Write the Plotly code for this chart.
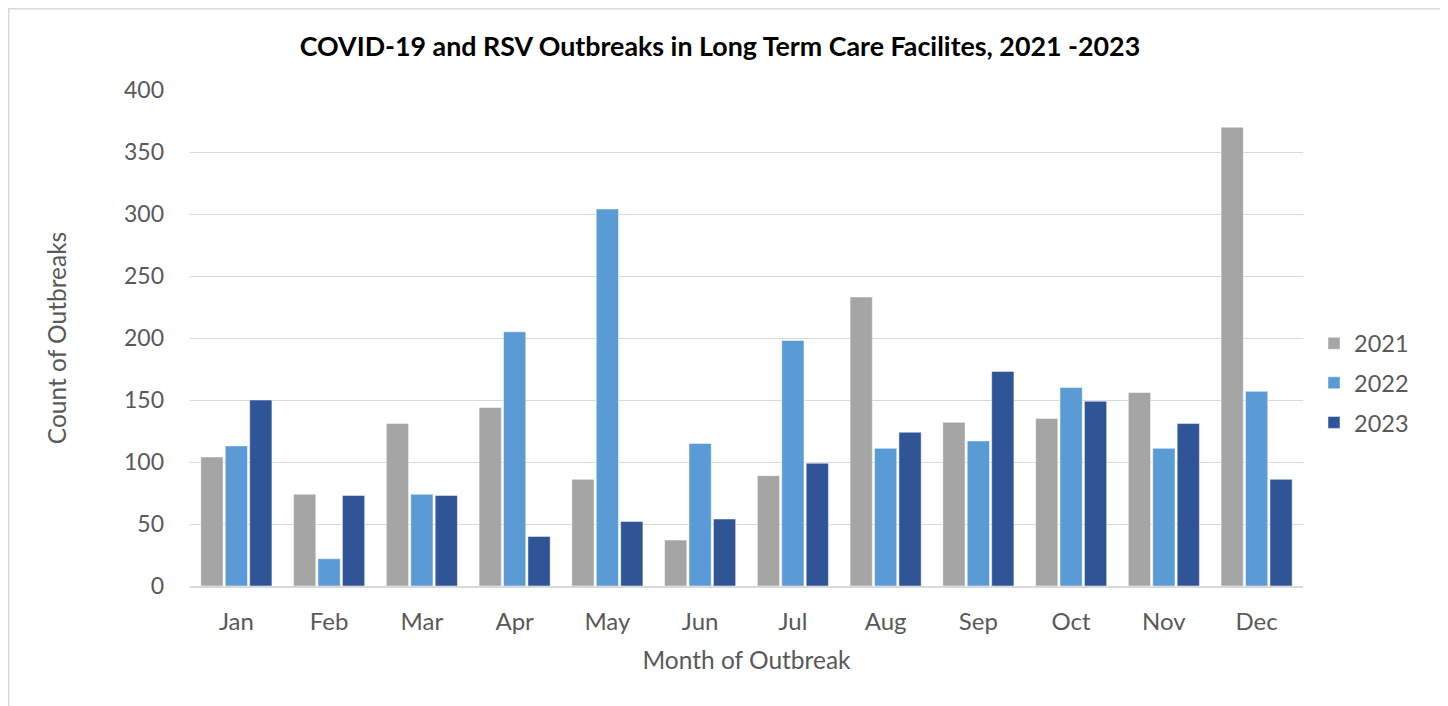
import plotly.graph_objects as go

months = ["Jan", "Feb", "Mar", "Apr", "May", "Jun", "Jul", "Aug", "Sep", "Oct", "Nov", "Dec"]
y2021 = [104, 74, 131, 144, 86, 37, 89, 233, 132, 135, 156, 370]
y2022 = [113, 22, 74, 205, 304, 115, 198, 111, 117, 160, 111, 157]
y2023 = [150, 73, 73, 40, 52, 54, 99, 124, 173, 149, 131, 86]
y_ticks = [0, 50, 100, 150, 200, 250, 300, 350, 400]

colors = {"2021": "#A5A5A5", "2022": "#5B9BD5", "2023": "#2F5597"}
FONT = "Lato, 'Open Sans', sans-serif"
GRAY = "#595959"

# page body has an 8px margin; figure is sized to compensate
W, H = 1440, 698
ML, MR, MT, MB = 182, 145, 82, 120
PW = W - ML - MR
PH = H - MT - MB

fig = go.Figure()
for name, vals in [("2021", y2021), ("2022", y2022), ("2023", y2023)]:
    fig.add_trace(go.Bar(
        x=months, y=vals, name=name, legendgroup=name,
        marker=dict(color=colors[name], line=dict(color="rgba(255,255,255,0.6)", width=0.8)),
    ))

fig.update_layout(
    width=W, height=H,
    margin=dict(l=ML, r=MR, t=MT, b=MB),
    paper_bgcolor="white", plot_bgcolor="white",
    barmode="group", bargap=0.21, bargroupgap=0.09,
    font=dict(family=FONT, color=GRAY, size=23),
    title=dict(text="<b>COVID-19 and RSV Outbreaks in Long Term Care Facilites, 2021 -2023</b>",
               x=(720 - 8) / W, xanchor="center", y=1 - 39 / H, yanchor="middle",
               font=dict(family=FONT, size=26.8, color="#000000")),
    legend=dict(x=(1314 - 8 - ML) / PW, xanchor="left", y=(578 - 375) / PH, yanchor="middle",
                font=dict(size=23.5, color=GRAY), tracegroupgap=6,
                bgcolor="rgba(0,0,0,0)"),
    xaxis=dict(showgrid=False, showline=True, linecolor="#D9D9D9", linewidth=1.5,
               ticks="", ticklabelstandoff=13, tickfont=dict(size=24),
               title=dict(text="Month of Outbreak", standoff=18, font=dict(size=24.5, color=GRAY))),
    yaxis=dict(range=[0, 400], tickvals=y_ticks, showgrid=True, gridcolor="#D9D9D9", gridwidth=1.2,
               zeroline=False, showline=False, ticks="", ticklabelstandoff=25,
               title=dict(text="Count of Outbreaks", standoff=50, font=dict(size=24.5, color=GRAY))),
    shapes=[dict(type="rect", xref="paper", yref="paper",
                 x0=(0.75 - ML) / PW, x1=(1438 - ML) / PW,
                 y0=-(MB + 60) / PH, y1=(PH + MT - 0.75) / PH,
                 line=dict(color="#D9D9D9", width=1.5), fillcolor="rgba(0,0,0,0)", layer="below")],
)

fig.write_html("out.html")
